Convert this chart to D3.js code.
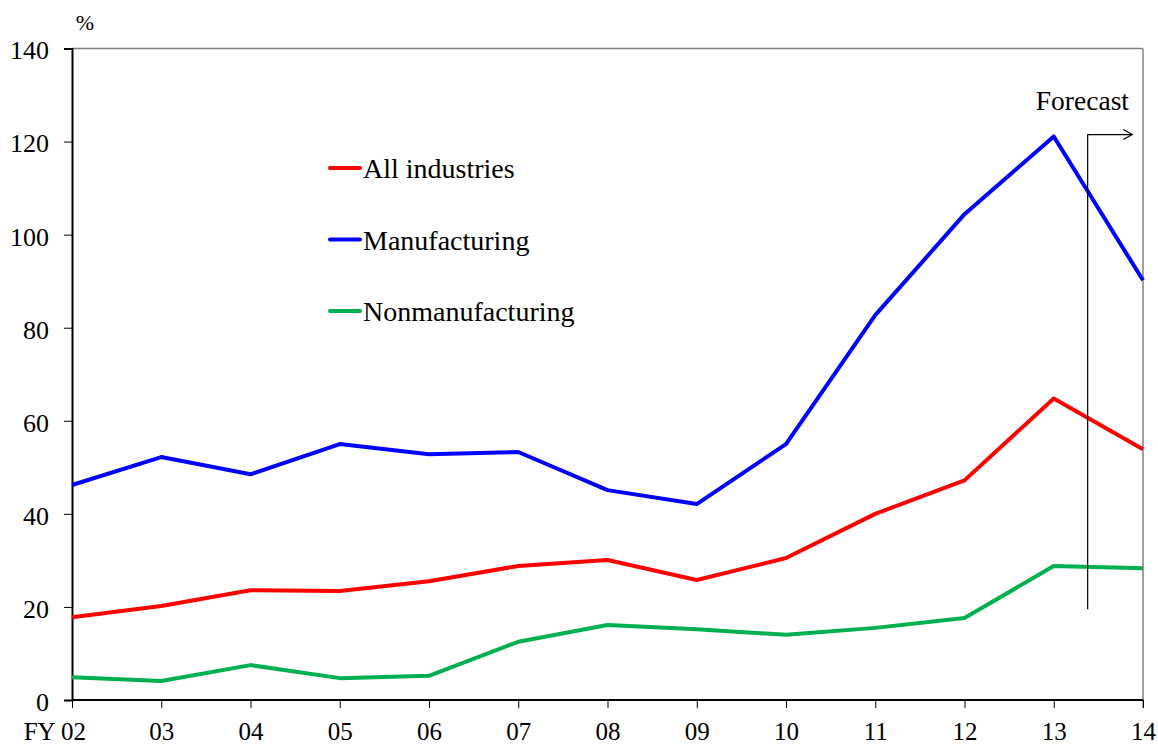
<!DOCTYPE html>
<html>
<head>
<meta charset="utf-8">
<script src="https://cdn.jsdelivr.net/npm/d3@7"></script>
<style>
  html, body { margin: 0; padding: 0; background: #fff; }
  svg { display: block; }
  svg text { font-family: "Liberation Serif", "Times New Roman", serif; fill: #000; }
</style>
</head>
<body>
<svg id="chart" width="1158" height="746"></svg>
<script>
// Fiscal years (labels on the x axis)
const years = ["02", "03", "04", "05", "06", "07", "08", "09", "10", "11", "12", "13", "14"];
const yTicks = [0, 20, 40, 60, 80, 100, 120, 140];

// Ratios, %
const allIndustries    = [17.8, 20.2, 23.6, 23.4, 25.5, 28.8, 30.1, 25.8, 30.5, 40.0, 47.2, 64.8, 53.9];
const manufacturing    = [46.2, 52.2, 48.5, 55.0, 52.8, 53.3, 45.1, 42.1, 55.0, 82.7, 104.4, 121.1, 90.2];
const nonmanufacturing = [4.9, 4.1, 7.5, 4.7, 5.2, 12.5, 16.1, 15.2, 14.0, 15.5, 17.6, 28.8, 28.3];

const seriesNames  = ["All industries", "Manufacturing", "Nonmanufacturing"];
const seriesColors = ["#ff0000", "#0000ff", "#00b050"];
const seriesValues = [allIndustries, manufacturing, nonmanufacturing];

// Forecast marker, in category-index units and % units
const forecastStart = 11.38, forecastArrowEnd = 11.88;
const forecastLow = 19.5, forecastHigh = 121.5;

const svg = d3.select("#chart");
const plotLeft = 72, plotRight = 1143, plotTop = 48.5, plotBottom = 700;

const x = d3.scalePoint().domain(years).range([plotLeft, plotRight]);
const xi = d3.scaleLinear().domain([0, years.length - 1]).range([plotLeft, plotRight]);
const y = d3.scaleLinear().domain([0, 140]).range([plotBottom, plotTop]);

// Frame: top and right in grey
svg.append("line").attr("x1", plotLeft).attr("x2", plotRight).attr("y1", plotTop).attr("y2", plotTop)
  .attr("stroke", "#808080").attr("stroke-width", 1.5);
svg.append("line").attr("x1", plotRight).attr("x2", plotRight).attr("y1", plotTop).attr("y2", plotBottom + 8)
  .attr("stroke", "#808080").attr("stroke-width", 1.5);

// Y axis
const yAxis = svg.append("g").attr("transform", `translate(${plotLeft},0)`)
  .call(d3.axisLeft(y).tickValues(yTicks).tickSize(8).tickPadding(15));
yAxis.attr("font-family", null).attr("font-size", null);
yAxis.select(".domain").attr("stroke", "#000").attr("stroke-width", 2);
yAxis.selectAll(".tick line").attr("stroke", "#000").attr("stroke-width", 1);
yAxis.selectAll("text").attr("font-size", 26).attr("dy", "0.4em");

// X axis
const xAxis = svg.append("g").attr("transform", `translate(0,${plotBottom})`)
  .call(d3.axisBottom(x).tickSize(8));
xAxis.attr("font-family", null).attr("font-size", null);
xAxis.select(".domain").attr("stroke", "#000").attr("stroke-width", 2).attr("d", `M${plotLeft},0H${plotRight}`);
xAxis.selectAll(".tick line").attr("stroke", "#000").attr("stroke-width", 1);
xAxis.selectAll("text").attr("font-size", 25).attr("y", 39.5).attr("dy", 0);
xAxis.selectAll(".tick").filter((d, i) => i === 0).select("text")
  .text("FY " + years[0]).attr("text-anchor", "end").attr("x", 13.5);

// Unit label
svg.append("text").attr("x", 85).attr("y", 30).attr("text-anchor", "middle")
  .attr("font-size", 22).text("%");

// Series lines
const line = d3.line().x((d, i) => x(years[i])).y(d => y(d));
seriesValues.forEach((vals, k) => {
  svg.append("path").datum(vals).attr("d", line)
    .attr("fill", "none").attr("stroke", seriesColors[k]).attr("stroke-width", 4)
    .attr("stroke-linejoin", "round");
});

// Forecast marker
const fx0 = xi(forecastStart), fx1 = xi(forecastArrowEnd), fyTop = y(forecastHigh);
svg.append("path")
  .attr("d", `M${fx0},${y(forecastLow)}V${fyTop}H${fx1}`)
  .attr("fill", "none").attr("stroke", "#000").attr("stroke-width", 1.2);
svg.append("path")
  .attr("d", `M${fx1 - 9},${fyTop - 5}L${fx1},${fyTop}L${fx1 - 9},${fyTop + 5}`)
  .attr("fill", "none").attr("stroke", "#000").attr("stroke-width", 1.2);
svg.append("text").attr("x", 1129).attr("y", 110).attr("text-anchor", "end")
  .attr("font-size", 27.5).text("Forecast");

// Legend
const legend = svg.append("g");
seriesNames.forEach((name, k) => {
  const ly = 168 + k * 71.5;
  legend.append("line").attr("x1", 330).attr("x2", 360).attr("y1", ly).attr("y2", ly)
    .attr("stroke", seriesColors[k]).attr("stroke-width", 4).attr("stroke-linecap", "round");
  legend.append("text").attr("x", 363).attr("y", ly + 10)
    .attr("font-size", 28).text(name);
});
</script>
</body>
</html>
